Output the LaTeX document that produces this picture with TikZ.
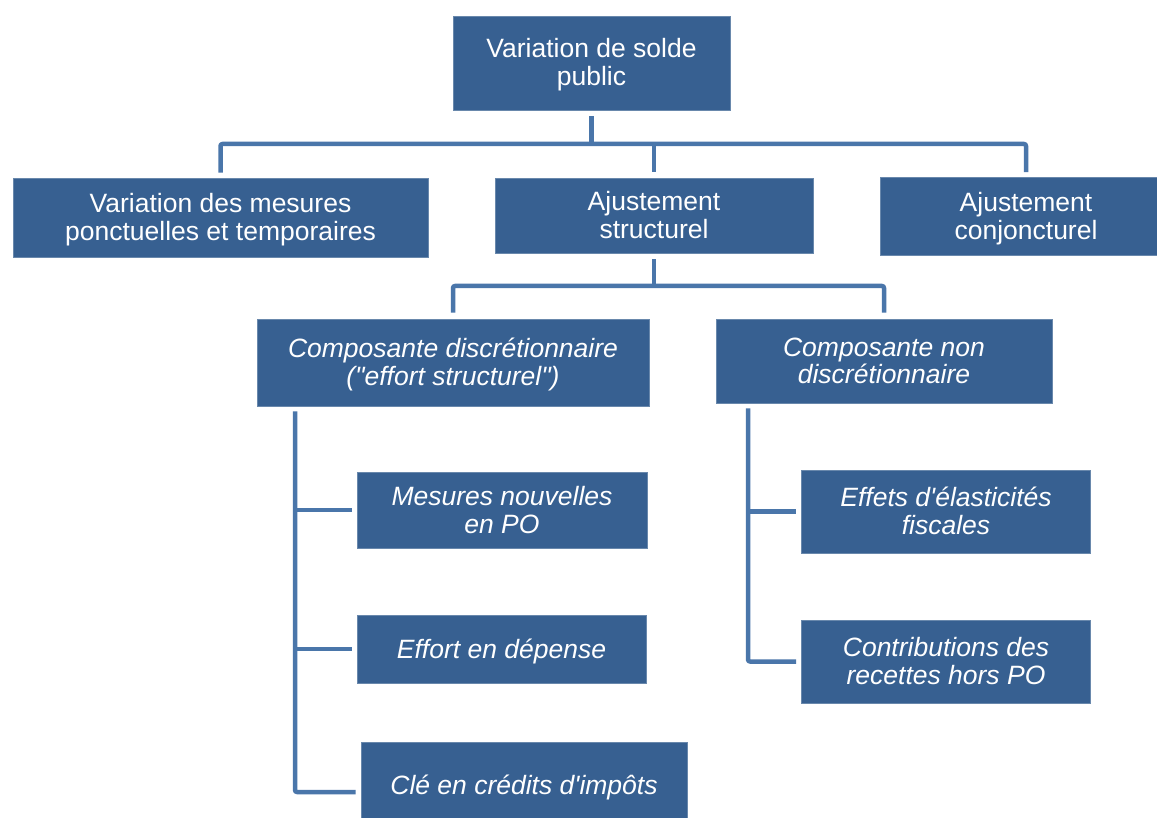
\documentclass[tikz,border=0pt]{standalone}
\usepackage{fontspec}
\setmainfont{Liberation Sans}
\newcommand{\apos}{\textquotesingle}
\newcommand{\dquote}{\textquotedbl}
% fixed line height / depth so every box places its lines alike
\newcommand{\topstr}{\rule{0pt}{24pt}}
\newcommand{\botstr}{\rule[-6pt]{0pt}{6pt}}
\definecolor{boxblue}{RGB}{55,96,145}
\definecolor{linkblue}{RGB}{74,118,170}
\tikzset{
  box/.style={fill=boxblue, draw=boxblue!75!white, line width=0.8pt,
    text=white, align=center, inner sep=0pt,
    font=\fontsize{26.5}{28}\selectfont},
  ibox/.style={box, font=\fontsize{26.5}{28}\selectfont\itshape},
  conn/.style={draw=linkblue, line width=4.5pt, rounded corners=2pt,
    line join=round}
}
\begin{document}
\begin{tikzpicture}[x=1pt, y=-1pt]
  \fill[white] (0,0) rectangle (1157,818);
  \clip (0,0) rectangle (1157,818);

  % top level
  \node[box, minimum width=277pt, minimum height=94pt] (top) at (591.5,63)
    {\topstr Variation de solde\\public\botstr};

  % second level
  \node[box, minimum width=415pt, minimum height=79pt] (vmp) at (220.5,217.5)
    {\topstr Variation des mesures\\ponctuelles et temporaires\botstr};
  \node[box, minimum width=318pt, minimum height=75pt] (ajs) at (654,215.5)
    {\topstr Ajustement\\structurel\botstr};
  \node[box, minimum width=292pt, minimum height=78pt] (ajc) at (1026,216.5)
    {\topstr Ajustement\\conjoncturel\botstr};

  % third level
  \node[ibox, minimum width=392pt, minimum height=87pt] (cde) at (453,362.5)
    {\topstr Composante discrétionnaire\\(\dquote effort structurel\dquote)\botstr};
  \node[ibox, minimum width=336pt, minimum height=84pt] (cnd) at (884,361)
    {\topstr Composante non\\discrétionnaire\botstr};

  % discretionary items
  \node[ibox, minimum width=290pt, minimum height=76pt] (mpo) at (502,510)
    {\topstr Mesures nouvelles\\en PO\botstr};
  \node[ibox, minimum width=289pt, minimum height=68pt] (efd) at (501.5,649)
    {\topstr Effort en dépense\botstr};
  \node[ibox, minimum width=326pt, minimum height=86pt] (cle) at (524,785)
    {\topstr Clé en crédits d\apos impôts\botstr};

  % non-discretionary items
  \node[ibox, minimum width=289pt, minimum height=83pt] (eef) at (946,511.5)
    {\topstr Effets d\apos élasticités\\fiscales\botstr};
  \node[ibox, minimum width=289pt, minimum height=83pt] (crh) at (946,661.5)
    {\topstr Contributions des\\recettes hors PO\botstr};

  % bus lines
  \coordinate (busA) at (0,144);
  \coordinate (busB) at (0,286);
  \coordinate (spL) at (295,0);
  \coordinate (spR) at (748,0);

  % top -> second level
  \draw[conn, shorten <=6pt] (top.south) -- (top.south |- busA);
  \draw[conn, shorten <=5pt, shorten >=5pt]
    (vmp.north) -- (vmp.north |- busA) -- (ajc.north |- busA) -- (ajc.north);
  \draw[conn, shorten >=6pt] (ajs.north |- busA) -- (ajs.north);

  % structural adjustment -> components
  \draw[conn, shorten <=6pt] (ajs.south) -- (ajs.south |- busB);
  \draw[conn, shorten <=6pt, shorten >=6pt]
    (cde.north) -- (cde.north |- busB) -- (cnd.north |- busB) -- (cnd.north);

  % discretionary spine
  \draw[conn, shorten <=5pt, shorten >=5pt]
    (cde.south -| spL) -- ([yshift=-7pt]cle.west -| spL) -- ([yshift=-7pt]cle.west);
  \draw[conn, shorten >=5pt] (mpo.west -| spL) -- (mpo.west);
  \draw[conn, shorten >=5pt] (efd.west -| spL) -- (efd.west);

  % non-discretionary spine
  \draw[conn, shorten <=5pt, shorten >=5pt]
    (cnd.south -| spR) -- (crh.west -| spR) -- (crh.west);
  \draw[conn, shorten >=5pt] (eef.west -| spR) -- (eef.west);
\end{tikzpicture}
\end{document}
